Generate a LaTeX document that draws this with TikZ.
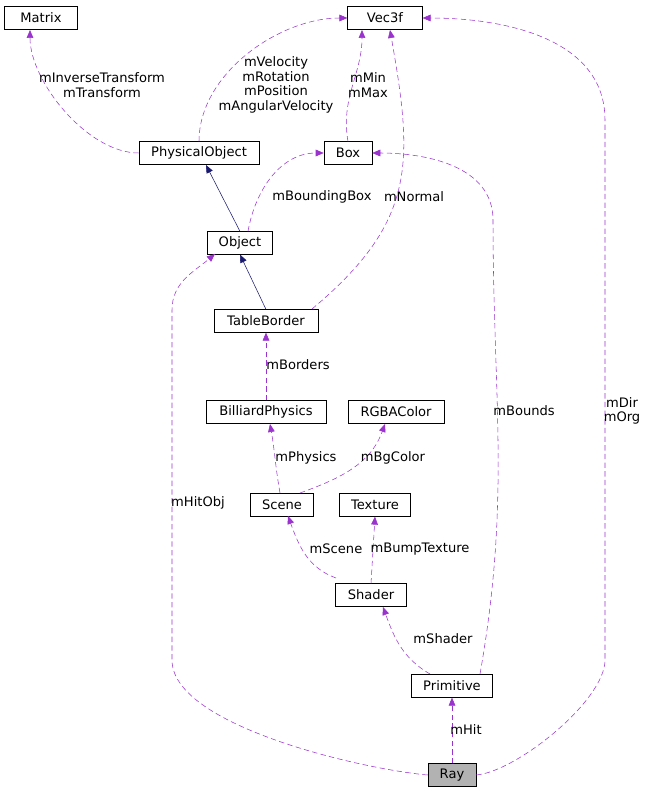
\documentclass[tikz,border=0pt]{standalone}
\usepackage{fontspec}
\setmainfont{DejaVu Sans}
\usetikzlibrary{arrows.meta}
\definecolor{memcol}{HTML}{9A32CD}
\definecolor{inhcol}{HTML}{191970}
\tikzset{
 cls/.style={draw,fill=white,inner sep=2pt,minimum height=17pt,font=\fontsize{9.8}{11}\selectfont},
 use/.style={draw=memcol,dash pattern=on 4pt off 2.5pt,-{Triangle[width=5pt,length=6pt,fill=memcol]}},
 isa/.style={draw=inhcol,-{Triangle[width=5pt,length=6pt,fill=inhcol]}},
 lbl/.style={font=\fontsize{9.8}{11}\selectfont,align=center,inner sep=1pt}
}
\begin{document}
\begin{tikzpicture}[x=0.75pt,y=-0.75pt]
 \useasboundingbox (0,0) rectangle (649,795);
 % classes
 \node[cls,minimum width=55pt] (matrix) at (41,18) {Matrix};
 \node[cls,minimum width=56pt] (vec) at (385,18) {Vec3f};
 \node[cls,minimum width=90pt] (phys) at (199,153) {PhysicalObject};
 \node[cls,minimum width=36pt] (box) at (348,153) {Box};
 \node[cls,minimum width=49pt] (obj) at (240,243) {Object};
 \node[cls,minimum width=78pt] (border) at (266,321) {TableBorder};
 \node[cls,minimum width=90pt] (billiard) at (266,412) {BilliardPhysics};
 \node[cls,minimum width=72pt] (color) at (396,412) {RGBAColor};
 \node[cls,minimum width=47pt] (scene) at (282,505) {Scene};
 \node[cls,minimum width=53pt] (tex) at (375,505) {Texture};
 \node[cls,minimum width=53pt] (shader) at (371,595) {Shader};
 \node[cls,minimum width=61pt] (prim) at (452,686) {Primitive};
 \node[cls,minimum width=36pt,fill=gray!60] (ray) at (452,775) {Ray};

 % inheritance
 \draw[isa] (obj.north) -- (206,165);
 \draw[isa] (border.north) -- (obj.south);

 % members
 \draw[use] (phys.west) to[out=180,in=-90,looseness=0.8] (30,30)
  node[lbl] at (102,85) {mInverseTransform\\mTransform};
 \draw[use] (phys.north) to[out=90,in=180,looseness=0.9] (vec.west)
  node[lbl] at (276,85) {mVelocity\\mRotation\\mPosition\\mAngularVelocity};
 \draw[use] (box.north) to[out=100,in=-90] (362,30)
  node[lbl] at (368,85) {mMin\\mMax};
 \draw[use] (obj.north) ++(8,0) to[out=80,in=180] (box.west)
  node[lbl] at (322,197) {mBoundingBox};
 \draw[use] (312,309) to[out=40,in=-80,looseness=1.2] (390,30)
  node[lbl] at (414,197) {mNormal};
 \draw[use] (billiard.north) -- (border.south)
  node[lbl] at (298,365) {mBorders};
 \draw[use] (280,493) to[out=100,in=-80] (270,424)
  node[lbl] at (306,458) {mPhysics};
 \draw[use] (300,493) to[out=20,in=-110] (385,424)
  node[lbl] at (393,458) {mBgColor};
 \draw[use] (336,578) to[out=160,in=-70] (288,516)
  node[lbl] at (336,549) {mScene};
 \draw[use] (shader.north) -- (tex.south)
  node[lbl] at (420,549) {mBumpTexture};
 \draw[use] (430,674) to[out=150,in=-70] (383,607)
  node[lbl] at (443,639) {mShader};
 \draw[use] (480,674) to[out=80,in=-90] (493,220) to[out=90,in=0] (box.east)
  node[lbl] at (524,411) {mBounds};
 \draw[use] (ray.north) -- (prim.south)
  node[lbl] at (466,730) {mHit};
 \draw[use] (ray.west) to[out=175,in=-90,looseness=0.6] (172,660) -- (172,310) to[out=90,in=-140] (215,254)
  node[lbl] at (198,503) {mHitObj};
 \draw[use] (ray.east) to[out=5,in=-90,looseness=0.6] (605,660) -- (605,120) to[out=90,in=0] (vec.east)
  node[lbl] at (622,411) {mDir\\mOrg};
\end{tikzpicture}
\end{document}
